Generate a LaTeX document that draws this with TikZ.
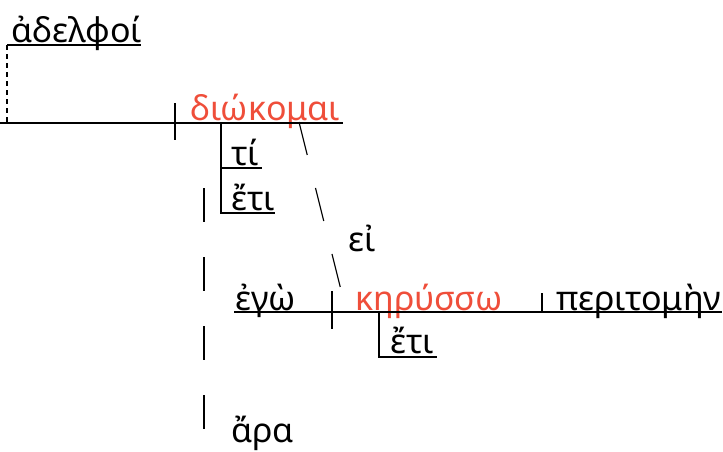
\documentclass[tikz,border=0pt]{standalone}
\usepackage{fontspec}
\newfontfamily\gr{Noto Sans}
\definecolor{vred}{RGB}{239,78,58}
\begin{document}
\begin{tikzpicture}[x=1pt,y=-1pt,
  ln/.style={line width=1.1pt,black},
  dsh/.style={ln,dash pattern=on 34pt off 34pt},
  sdash/.style={ln,dash pattern=on 5pt off 4pt},
  word/.style={font=\gr\fontsize{34}{36}\selectfont,inner sep=0pt,anchor=base west,text=black},
  verb/.style={word,text=vred}]
\useasboundingbox (0,0) rectangle (723,451);
% words
\node[word] (adelphoi) at (11,42) {ἀδελφοί};
\node[verb] (diokomai) at (190,120) {διώκομαι};
\node[word] (ti) at (231,165) {τί};
\node[word] (eti1) at (231,210) {ἔτι};
\node[word] (ei) at (348,251) {εἰ};
\node[word] (ego) at (235,310) {ἐγὼ};
\node[verb] (kerysso) at (355,310) {κηρύσσω};
\node[word] (peritomen) at (556,310) {περιτομὴν};
\node[word] (eti2) at (390,353) {ἔτι};
\node[word] (ara) at (231,442) {ἄρα};
% coordinates
\coordinate (m0) at (0,123);
\coordinate (m1) at (343,123);
\coordinate (d0) at (175,103);
\coordinate (d1) at (175,140);
\coordinate (a0) at (7,45);
\coordinate (a1) at (141,45);
\coordinate (a2) at (7,123);
\coordinate (t0) at (221,123);
\coordinate (t1) at (221,168);
\coordinate (t2) at (262,168);
\coordinate (t3) at (221,213);
\coordinate (t4) at (275,213);
\coordinate (g0) at (299,122);
\coordinate (g1) at (341,290);
\coordinate (s0) at (234,312);
\coordinate (s1) at (722,312);
\coordinate (v0) at (332,291);
\coordinate (v1) at (332,329);
\coordinate (p0) at (542,293);
\coordinate (p1) at (542,312);
\coordinate (e0) at (379,312);
\coordinate (e1) at (379,357);
\coordinate (e2) at (437,357);
\coordinate (q0) at (204,188);
\coordinate (q1) at (204,430);
% lines
\draw[ln] (m0) -- (m1);
\draw[ln] (d0) -- (d1);
\draw[ln] (a0) -- (a1);
\draw[sdash] (a0) -- (a2);
\draw[ln] (t0) -- (t3) -- (t4);
\draw[ln] (t1) -- (t2);
\draw[dsh] (g0) -- (g1);
\draw[ln] (s0) -- (s1);
\draw[ln] (v0) -- (v1);
\draw[ln] (p0) -- (p1);
\draw[ln] (e0) -- (e1) -- (e2);
\draw[ln,dash pattern=on 34pt off 35pt] (q0) -- (q1);
\end{tikzpicture}
\end{document}
